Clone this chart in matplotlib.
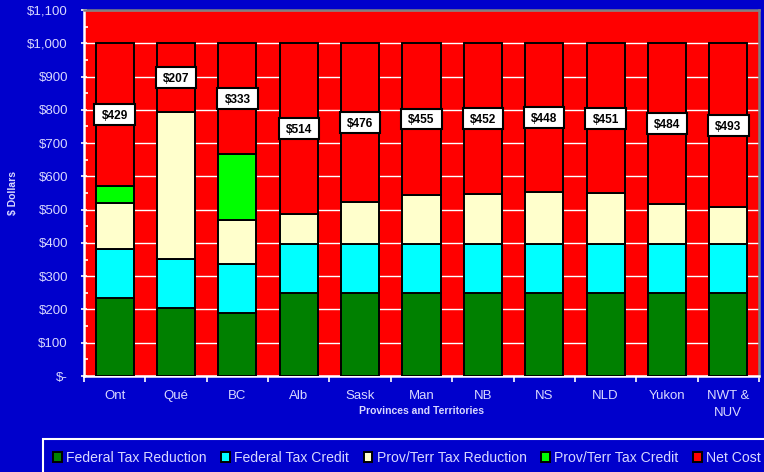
import matplotlib
matplotlib.use("Agg")
import matplotlib.pyplot as plt
import numpy as np
from matplotlib.patches import Rectangle, Patch
from matplotlib.ticker import MultipleLocator

plt.rcParams['font.family'] = ['Liberation Sans', 'DejaVu Sans']

provinces = ["Ont", "Qué", "BC", "Alb", "Sask", "Man", "NB", "NS", "NLD", "Yukon", "NWT &\nNUV"]
federal_tax_reduction = [233, 205, 190, 248, 248, 248, 248, 248, 248, 248, 248]
federal_tax_credit = [148, 148, 148, 148, 148, 148, 148, 148, 148, 148, 148]
prov_tax_reduction = [140, 440, 130, 90, 128, 149, 152, 156, 153, 120, 111]
prov_tax_credit = [50, 0, 199, 0, 0, 0, 0, 0, 0, 0, 0]
net_cost = [429, 207, 333, 514, 476, 455, 452, 448, 451, 484, 493]

series = [
    ("Federal Tax Reduction", federal_tax_reduction, "#008000"),
    ("Federal Tax Credit", federal_tax_credit, "#00ffff"),
    ("Prov/Terr Tax Reduction", prov_tax_reduction, "#ffffcc"),
    ("Prov/Terr Tax Credit", prov_tax_credit, "#00ff00"),
    ("Net Cost", net_cost, "#ff0000"),
]

bg = "#0000cc"
txt = "#d8d8ff"

fig = plt.figure(figsize=(7.64, 4.72), dpi=100, facecolor=bg)
ax = fig.add_axes([84 / 764, 1 - 376 / 472, 675 / 764, 366 / 472])
ax.set_facecolor("#ff0000")

x = np.arange(len(provinces))
bar_w = 0.62
bottom = np.zeros(len(provinces))
for name, vals, col in series:
    vals = np.array(vals, dtype=float)
    ax.bar(x, vals, bottom=bottom, width=bar_w, color=col, edgecolor="black",
           linewidth=1.4, zorder=3, label=name)
    bottom += vals

# value boxes centred on the net-cost segment
net = np.array(net_cost, dtype=float)
box_w, box_h = 0.66, 62
for xi, top, n in zip(x, bottom, net):
    mid = top - n / 2
    ax.add_patch(Rectangle((xi - box_w / 2, mid - box_h / 2), box_w, box_h,
                           facecolor="white", edgecolor="black", linewidth=1.5,
                           zorder=4))
    ax.text(xi, mid, f"${int(n)}", ha="center", va="center_baseline",
            fontsize=8.6, fontweight="bold", color="black", zorder=5)

ax.set_xlim(-0.5, len(provinces) - 0.5)
ax.set_ylim(0, 1100)
ticks = np.arange(0, 1101, 100)
ax.set_yticks(ticks)
ax.set_yticklabels(["$-"] + [f"${t:,}" for t in ticks[1:]])
ax.yaxis.set_minor_locator(MultipleLocator(50))
ax.set_xticks(x)
ax.set_xticklabels(provinces, linespacing=1.55)
ax.set_xticks(np.arange(-0.5, len(provinces), 1.0), minor=True)
ax.tick_params(axis="x", which="major", length=0, pad=10, colors=txt, labelsize=9.5)
ax.tick_params(axis="x", which="minor", length=4, width=1.2, color="white", direction="out")
ax.tick_params(axis="y", which="major", length=5, width=1.2, color="white",
               direction="inout", colors=txt, labelsize=9.5, pad=9)
ax.tick_params(axis="y", which="minor", length=3, width=1.2, color="white", direction="in")

ax.grid(axis="y", which="major", color="white", linewidth=1.0, zorder=1)
ax.set_axisbelow(True)

for side in ("left", "bottom"):
    ax.spines[side].set_color("white")
    ax.spines[side].set_linewidth(1.8)
for side in ("top", "right"):
    ax.spines[side].set_color("#808080")
    ax.spines[side].set_linewidth(1.8)

ax.set_ylabel("$ Dollars", color=txt, fontsize=7.5, fontweight="bold")
ax.yaxis.set_label_coords(-66 / 675, 0.5)
ax.set_xlabel("Provinces and Territories", color=txt, fontsize=7.5, fontweight="bold")
ax.xaxis.set_label_coords(0.5, -35 / 366)
ax.xaxis.label.set_va("center")

# legend frame running off the lower-right edge
fig.patches.append(Rectangle((43 / 764, -0.05), 0.99, (472 - 439) / 472 + 0.05,
                             transform=fig.transFigure, facecolor="none",
                             edgecolor="white", linewidth=1.5))
handles = [Patch(facecolor=c, edgecolor="black", linewidth=1.4) for _, _, c in series]
labels = [n for n, _, _ in series]
fig.legend(handles, labels, loc="center left", bbox_to_anchor=(53 / 764, 1 - 458 / 472),
           ncol=5, frameon=False, fontsize=10.1, labelcolor=txt, handlelength=0.62,
           handleheight=0.7, handletextpad=0.3, columnspacing=1.05, borderpad=0,
           borderaxespad=0)

fig.savefig("out.png", dpi=100, facecolor=bg)
